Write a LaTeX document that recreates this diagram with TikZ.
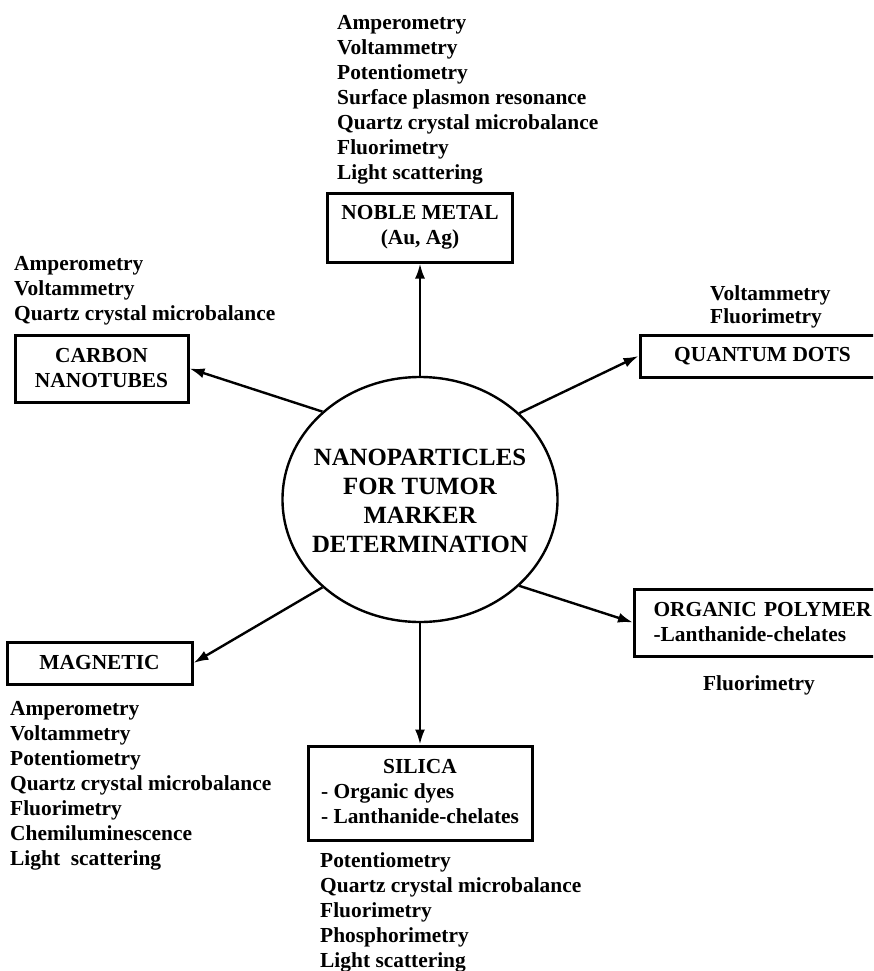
\documentclass[tikz,border=0pt]{standalone}
\usepackage{fontspec}
\setmainfont{Liberation Serif}
\usetikzlibrary{shapes.geometric,arrows.meta}
\newcommand{\diagtxt}{\fontsize{21.4}{25}\selectfont\bfseries}
\newcommand{\diagbig}{\fontsize{24.8}{29}\selectfont\bfseries}
\begin{document}
\begin{tikzpicture}[x=1pt,y=-1pt,
  box/.style={draw, line width=3pt, inner sep=0pt, align=center, font=\diagtxt},
  lst/.style={anchor=north west, inner sep=0pt, align=left, font=\diagtxt},
  arr/.style={line width=2.4pt, -{Latex[length=15pt,width=10pt]}}]
\useasboundingbox (0,0) rectangle (873,971);
\clip (0,0) rectangle (873,971);
\fill[white] (0,0) rectangle (873,971);

% centre
\node[draw, ellipse, line width=2.4pt, minimum width=275pt, minimum height=245pt, inner sep=0pt] (c) at (420,499.5) {};
\node[align=center, font=\diagbig, inner sep=0pt] (ctext) at (420,500.5) {NANOPARTICLES\\FOR TUMOR\\MARKER\\DETERMINATION};

% boxes
\node[box, minimum width=185pt, minimum height=69pt] (noble) at (420,227.5) {NOBLE METAL\\(Au, Ag)};
\node[box, minimum width=173pt, minimum height=67pt] (carbon) at (101.5,368.5) {CARBON\\NANOTUBES};
\node[box, minimum width=245pt, minimum height=42pt] (quantum) at (762.5,356) {QUANTUM DOTS};
\node[box, align=left, text width=232pt, minimum height=67pt, inner xsep=19pt, anchor=west] (organic) at (633,622.5) {ORGANIC POLYMER\\-Lanthanide-chelates};
\node[box, minimum width=185pt, minimum height=42pt] (magnetic) at (99.5,663) {MAGNETIC};
\node[box, minimum width=224pt, minimum height=94pt] (silica) at (420,793) {\begin{tabular}{@{}l@{}}\multicolumn{1}{@{}c@{}}{SILICA}\\- Organic dyes\\- Lanthanide-chelates\end{tabular}};

% method lists
\node[lst] (noblelist) at (337,15) {Amperometry\\Voltammetry\\Potentiometry\\Surface plasmon resonance\\Quartz crystal microbalance\\Fluorimetry\\Light scattering};
\node[lst] (carbonlist) at (14,256) {Amperometry\\Voltammetry\\Quartz crystal microbalance};
\node[lst, font=\fontsize{21.4}{23}\selectfont\bfseries] (quantumlist) at (710,285) {Voltammetry\\Fluorimetry};
\node[lst, anchor=north] (organiclist) at (759,675) {Fluorimetry};
\node[lst] (magneticlist) at (10,701) {Amperometry\\Voltammetry\\Potentiometry\\Quartz crystal microbalance\\Fluorimetry\\Chemiluminescence\\Light~ scattering};
\node[lst] (silicalist) at (320,852) {Potentiometry\\Quartz crystal microbalance\\Fluorimetry\\Phosphorimetry\\Light scattering};

% connectors
\draw[arr] (c.north) -- (noble.south);
\draw[arr] (c.south) -- (silica.north);
\draw[arr] (c.138.4) -- (carbon.east);
\draw[arr] (c.41.6) -- (quantum.west);
\draw[arr] (c.-41.6) -- (organic.west);
\draw[arr] (c.-138.4) -- (magnetic.east);
\end{tikzpicture}
\end{document}
